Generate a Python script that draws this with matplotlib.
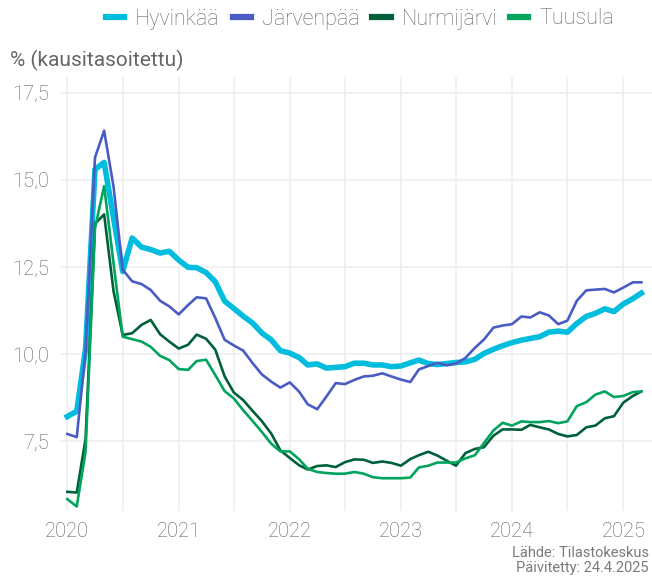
import numpy as np
import pandas as pd
import matplotlib
matplotlib.use("Agg")
import matplotlib.pyplot as plt
import matplotlib.dates as mdates
from matplotlib.lines import Line2D
from matplotlib.ticker import FuncFormatter

# kuukaudet 1/2020 - 3/2025
months = pd.date_range("2020-01-01", periods=63, freq="MS")

hyvinkaa = [8.21, 8.36, 10.16, 15.30, 15.50, 13.9, 12.37, 13.33, 13.07, 13.0,
            12.9, 12.95, 12.7, 12.49, 12.48, 12.34, 12.08, 11.52, 11.31, 11.09,
            10.89, 10.61, 10.41, 10.1, 10.03, 9.9, 9.69, 9.72, 9.6, 9.62,
            9.64, 9.74, 9.74, 9.69, 9.69, 9.64, 9.66, 9.75, 9.83, 9.73,
            9.7, 9.73, 9.76, 9.78, 9.85, 10.02, 10.14, 10.24, 10.33, 10.4,
            10.45, 10.5, 10.63, 10.66, 10.63, 10.88, 11.08, 11.17, 11.3, 11.22,
            11.44, 11.59, 11.75]
jarvenpaa = [7.71, 7.62, 10.07, 15.64, 16.41, 14.8, 12.42, 12.09, 12.01, 11.84,
             11.53, 11.37, 11.14, 11.41, 11.63, 11.6, 11.04, 10.41, 10.25, 10.1,
             9.74, 9.42, 9.21, 9.04, 9.19, 8.92, 8.56, 8.42, 8.78, 9.17,
             9.14, 9.26, 9.36, 9.38, 9.45, 9.36, 9.27, 9.2, 9.56, 9.66,
             9.75, 9.68, 9.73, 9.89, 10.18, 10.42, 10.76, 10.82, 10.86, 11.08,
             11.05, 11.2, 11.11, 10.86, 10.96, 11.53, 11.83, 11.85, 11.87, 11.77,
             11.91, 12.06, 12.06]
nurmijarvi = [6.05, 6.03, 7.57, 13.74, 14.01, 11.8, 10.55, 10.6, 10.84, 10.98,
              10.57, 10.36, 10.16, 10.27, 10.56, 10.44, 10.13, 9.36, 8.9, 8.68,
              8.37, 8.08, 7.72, 7.24, 7.02, 6.81, 6.69, 6.79, 6.81, 6.76,
              6.9, 6.98, 6.97, 6.88, 6.92, 6.88, 6.8, 6.99, 7.1, 7.2,
              7.09, 6.94, 6.8, 7.16, 7.28, 7.33, 7.66, 7.84, 7.84, 7.83,
              7.97, 7.9, 7.84, 7.71, 7.64, 7.68, 7.9, 7.95, 8.16, 8.22,
              8.61, 8.8, 8.93]
tuusula = [5.84, 5.63, 7.2, 13.62, 14.82, 12.6, 10.5, 10.43, 10.36, 10.21,
           9.95, 9.83, 9.57, 9.55, 9.8, 9.84, 9.4, 8.94, 8.73, 8.39,
           8.08, 7.77, 7.43, 7.21, 7.21, 6.98, 6.71, 6.62, 6.59, 6.57,
           6.57, 6.62, 6.57, 6.47, 6.44, 6.44, 6.44, 6.46, 6.75, 6.8,
           6.89, 6.89, 6.89, 7.01, 7.1, 7.45, 7.81, 8.03, 7.95, 8.07,
           8.05, 8.05, 8.08, 8.02, 8.07, 8.51, 8.62, 8.84, 8.93, 8.77,
           8.8, 8.91, 8.93]

names = ["Hyvinkää", "Järvenpää", "Nurmijärvi", "Tuusula"]
colors = ["#00BCDD", "#4A5CC4", "#00603A", "#00A45C"]
widths = [4.0, 1.9, 1.9, 1.9]
series = [hyvinkaa, jarvenpaa, nurmijarvi, tuusula]

plt.rcParams["font.family"] = ["Roboto", "DejaVu Sans"]
grey = "#666666"

fig = plt.figure(figsize=(6.52, 5.76), dpi=100)
ax = fig.add_axes([60 / 652, 1 - 511 / 576, 592 / 652, (511 - 77) / 576])

for name, vals, c, lw in zip(names, series, colors, widths):
    ax.plot(months, vals, color=c, lw=lw, label=name, solid_joinstyle="round")

ax.set_xlim(pd.Timestamp("2019-12-08"), pd.Timestamp("2025-04-05"))
ax.set_ylim(5.5, 17.95)
ax.set_yticks([7.5, 10, 12.5, 15, 17.5])
ax.yaxis.set_major_formatter(FuncFormatter(lambda v, p: f"{v:.1f}".replace(".", ",")))
ax.xaxis.set_major_locator(mdates.YearLocator())
ax.xaxis.set_major_formatter(mdates.DateFormatter("%Y"))
ax.xaxis.set_minor_locator(mdates.MonthLocator(bymonth=[7]))

ax.grid(True, which="both", color="#efefef", lw=1.2)
ax.set_axisbelow(True)
for s in ax.spines.values():
    s.set_visible(False)
ax.tick_params(which="both", length=0, colors="#5e5e5e", labelsize=14.5, pad=8)
for lab in ax.get_xticklabels() + ax.get_yticklabels():
    lab.set_fontweight("light")

fig.text(10 / 652, 1 - 60 / 576, "% (kausitasoitettu)", color=grey, fontsize=15,
         va="center", ha="left")

handles = [Line2D([], [], color=c, lw=4.5) for c in colors]
leg = fig.legend(handles, names, loc="center", bbox_to_anchor=(360 / 652, 1 - 19 / 576),
                 ncol=4, frameon=False, handlelength=0.85, handletextpad=0.5,
                 columnspacing=0.6, borderaxespad=0, borderpad=0,
                 prop={"size": 15.5, "weight": "light"})
for t in leg.get_texts():
    t.set_color(grey)

fig.text(649 / 652, 1 - 553 / 576, "Lähde: Tilastokeskus", color="#7a7a7a", fontsize=10.5,
         ha="right", va="center")
fig.text(649 / 652, 1 - 568 / 576, "Päivitetty: 24.4.2025", color="#7a7a7a", fontsize=10.5,
         ha="right", va="center")

fig.savefig("out.png", dpi=100)
